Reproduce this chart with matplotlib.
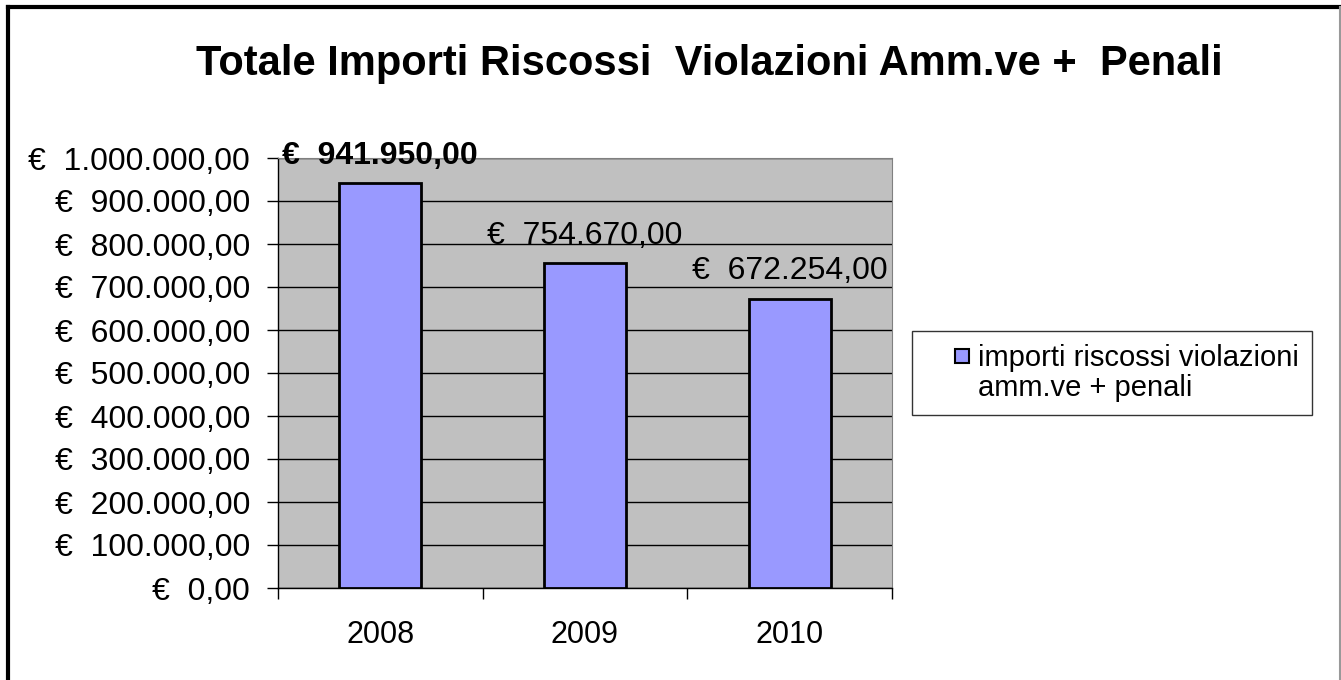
import matplotlib.pyplot as plt
from matplotlib.lines import Line2D

plt.rcParams['font.family'] = ['Liberation Sans', 'DejaVu Sans']

title = "Totale Importi Riscossi  Violazioni Amm.ve +  Penali"
years = ["2008", "2009", "2010"]
amounts = [941950.00, 754670.00, 672254.00]
series_name = "importi riscossi violazioni"
series_name_2 = "amm.ve + penali"
y_ticks = [0, 100000, 200000, 300000, 400000, 500000, 600000, 700000, 800000, 900000, 1000000]


def euro(v):
    s = f"{v:,.2f}".replace(",", "X").replace(".", ",").replace("X", ".")
    return "€  " + s


fig = plt.figure(figsize=(13.41, 6.80), dpi=100)
ax = fig.add_axes([278 / 1341, 1 - 588 / 680, 614 / 1341, 430 / 680])
ax.set_facecolor("#C0C0C0")

x = list(range(len(years)))
bars = ax.bar(x, amounts, width=0.4, color="#9999FF", edgecolor="black", linewidth=2, zorder=3)

ax.set_ylim(0, 1000000)
ax.set_xlim(-0.5, len(years) - 0.5)
ax.set_yticks(y_ticks)
ax.set_yticklabels([euro(v) for v in y_ticks], fontsize=23)
ax.yaxis.grid(True, color="black", linewidth=1)
ax.set_axisbelow(True)

# category ticks on boundaries, labels in the middle
ax.set_xticks([i - 0.5 for i in range(len(years) + 1)])
ax.set_xticklabels([])
ax.set_xticks(x, minor=True)
ax.set_xticklabels(years, minor=True, fontsize=22)
ax.tick_params(axis="x", which="minor", length=0, pad=23)
ax.tick_params(axis="x", which="major", length=8, direction="out", width=1)
ax.tick_params(axis="y", length=8, direction="out", width=1, pad=12)

for side in ["top", "right"]:
    ax.spines[side].set_color("#808080")
ax.spines["left"].set_linewidth(1)
ax.spines["bottom"].set_linewidth(1)

for i, (b, v) in enumerate(zip(bars, amounts)):
    ax.annotate(euro(v), (b.get_x() + b.get_width() / 2, v), xytext=(0, 14),
                textcoords="offset points", ha="center", va="baseline", fontsize=23,
                fontweight="bold" if i == 0 else "normal", annotation_clip=False)

fig.text(0.529, 1 - 75 / 680, title, ha="center", va="baseline", fontsize=30, fontweight="bold")

handles = [Line2D([], [], linestyle="none", marker="s", markersize=9.5,
                  markerfacecolor="#9999FF", markeredgecolor="black", markeredgewidth=1.5),
           Line2D([], [], linestyle="none")]
leg = fig.legend(handles, [series_name, series_name_2], loc="upper left",
                 bbox_to_anchor=(912 / 1341, 1 - 331 / 680), fontsize=21,
                 frameon=True, fancybox=False, edgecolor="black", handlelength=2.5,
                 handletextpad=-0.7, labelspacing=0.05, borderpad=0.45, borderaxespad=0)
leg.get_frame().set_linewidth(1)

# outer chart frame
fig.add_artist(Line2D([8 / 1341, 8 / 1341], [0, 1 - 7 / 680], color="black", linewidth=3, transform=fig.transFigure))
fig.add_artist(Line2D([8 / 1341, 1340 / 1341], [1 - 7 / 680, 1 - 7 / 680], color="black", linewidth=3, transform=fig.transFigure))
fig.add_artist(Line2D([1340 / 1341, 1340 / 1341], [0, 1 - 7 / 680], color="#999999", linewidth=1.5, transform=fig.transFigure))

fig.savefig("out.png", dpi=100)
